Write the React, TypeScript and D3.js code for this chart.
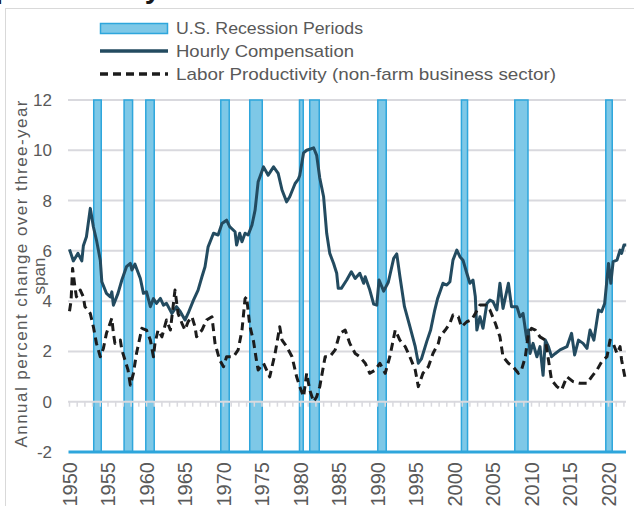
import React, { useEffect, useRef } from "react";
import * as d3 from "d3";

// values (decimal years)
const yTicks = [0, 2, 4, 6, 8, 10, 12];
const yLabels = [-2, 0, 2, 4, 6, 8, 10, 12];
const xTicks = [1950, 1955, 1960, 1965, 1970, 1975, 1980, 1985, 1990, 1995, 2000, 2005, 2010, 2015, 2020];

const recessions: [number, number][] = [
  [1953.05, 1954.22], [1956.99, 1958.29], [1959.81, 1961.1], [1969.55, 1970.84],
  [1973.31, 1975.13], [1979.77, 1980.45], [1981.1, 1982.53], [1989.94, 1991.23],
  [2000.8, 2001.79], [2007.73, 2009.64], [2019.55, 2020.58],
];

const hourlyComp: [number, number][] = [
  [1950.0, 6.06], [1950.5, 5.6], [1951.1, 5.9], [1951.6, 5.6], [1951.8, 6.2], [1952.2, 6.56],
  [1952.7, 7.69], [1953.1, 6.96], [1953.5, 6.43], [1954.0, 5.63], [1954.2, 4.77], [1954.8, 4.31],
  [1955.3, 4.17], [1955.5, 4.37], [1955.7, 3.84], [1956.3, 4.31], [1956.8, 4.84], [1957.4, 5.37],
  [1957.9, 5.5], [1958.1, 5.24], [1958.5, 5.47], [1959.2, 4.9], [1959.6, 4.31], [1960.0, 4.37],
  [1960.5, 3.78], [1960.9, 4.1], [1961.3, 3.91], [1961.8, 4.11], [1962.2, 3.84], [1962.6, 3.91],
  [1963.3, 3.51], [1963.9, 3.78], [1964.4, 3.58], [1965.0, 3.25], [1965.4, 3.51], [1966.1, 4.04],
  [1966.7, 4.44], [1967.2, 4.97], [1967.6, 5.37], [1968.0, 6.16], [1968.7, 6.7], [1969.3, 6.63],
  [1969.8, 7.09], [1970.4, 7.22], [1970.8, 6.96], [1971.5, 6.76], [1971.7, 6.23], [1972.1, 6.7],
  [1972.4, 6.36], [1972.8, 6.7], [1973.2, 6.63], [1973.7, 7.03], [1974.1, 7.62], [1974.5, 8.75],
  [1975.2, 9.34], [1975.8, 9.01], [1976.5, 9.34], [1977.1, 9.08], [1977.6, 8.42], [1978.2, 7.95],
  [1978.6, 8.15], [1979.3, 8.68], [1979.7, 8.84], [1979.9, 9.0], [1980.4, 9.9], [1980.8, 10.0],
  [1981.5, 10.07], [1981.7, 10.1], [1982.1, 9.8], [1982.5, 8.9], [1983.0, 8.15], [1983.4, 6.7],
  [1983.8, 5.9], [1984.3, 5.5], [1984.7, 5.11], [1984.9, 4.51], [1985.3, 4.51], [1986.0, 4.84],
  [1986.6, 5.17], [1987.1, 4.9], [1987.7, 5.11], [1988.2, 4.71], [1988.4, 4.97], [1989.0, 4.44],
  [1989.5, 3.88], [1989.9, 3.84], [1990.2, 4.84], [1990.8, 4.4], [1991.4, 4.75], [1992.1, 5.7],
  [1992.5, 5.88], [1992.9, 5.0], [1993.5, 3.78], [1994.2, 3.0], [1994.9, 2.19], [1995.3, 1.53],
  [1995.7, 1.7], [1996.4, 2.4], [1996.9, 2.85], [1997.4, 3.6], [1997.8, 4.1], [1998.2, 4.44],
  [1998.5, 4.71], [1999.0, 4.64], [1999.4, 4.77], [1999.8, 5.63], [2000.3, 6.03], [2000.7, 5.77],
  [2001.1, 5.63], [2001.6, 5.11], [2002.0, 4.71], [2002.4, 4.84], [2002.7, 4.18], [2002.9, 2.85],
  [2003.3, 3.38], [2003.7, 2.92], [2004.2, 3.91], [2004.6, 4.04], [2005.0, 3.98], [2005.5, 3.65],
  [2005.9, 4.71], [2006.3, 3.71], [2007.0, 4.71], [2007.4, 3.78], [2008.1, 3.78], [2008.5, 3.38],
  [2008.9, 3.51], [2009.4, 2.45], [2009.6, 2.85], [2009.8, 1.92], [2010.2, 2.32], [2010.7, 1.79],
  [2011.1, 2.19], [2011.5, 1.05], [2011.8, 2.45], [2012.2, 2.19], [2012.6, 1.79], [2013.1, 1.92],
  [2013.7, 2.06], [2014.6, 2.19], [2015.2, 2.72], [2015.6, 1.86], [2016.1, 2.45], [2016.7, 2.32],
  [2017.2, 2.12], [2017.6, 2.85], [2018.1, 2.45], [2018.7, 3.65], [2019.1, 3.58], [2019.5, 3.91],
  [2020.0, 5.5], [2020.3, 4.71], [2020.6, 5.57], [2021.1, 5.63], [2021.5, 6.03], [2021.7, 5.9],
  [2022.0, 6.23], [2022.3, 6.23],
];

const laborProd: [number, number][] = [
  [1950.0, 3.6], [1950.2, 4.0], [1950.4, 5.3], [1950.7, 4.57], [1950.9, 4.17], [1951.4, 4.44],
  [1951.8, 4.17], [1952.0, 3.78], [1952.7, 3.51], [1953.1, 2.98], [1953.5, 2.32], [1954.0, 1.79],
  [1954.4, 2.12], [1954.8, 2.72], [1955.5, 3.32], [1955.7, 2.72], [1955.9, 2.32], [1956.6, 2.45],
  [1956.8, 2.06], [1957.2, 1.66], [1957.6, 1.26], [1957.9, 0.66], [1958.3, 1.13], [1958.7, 1.92],
  [1959.4, 2.92], [1960.0, 2.85], [1960.5, 2.45], [1960.9, 1.79], [1961.1, 2.32], [1961.5, 2.85],
  [1962.0, 2.58], [1962.6, 3.25], [1963.1, 2.85], [1963.7, 4.44], [1964.1, 3.51], [1964.6, 3.12],
  [1965.0, 2.85], [1965.4, 3.18], [1965.9, 3.38], [1966.3, 2.98], [1966.5, 2.58], [1967.2, 2.85],
  [1967.8, 3.25], [1968.5, 3.38], [1968.9, 2.32], [1969.5, 1.66], [1970.0, 1.39], [1970.4, 1.79],
  [1971.3, 1.79], [1971.9, 2.06], [1972.4, 2.85], [1972.8, 4.1], [1973.0, 4.17], [1973.4, 3.05],
  [1973.9, 2.4], [1974.3, 1.6], [1974.5, 1.26], [1975.2, 1.53], [1975.6, 1.26], [1976.0, 0.99],
  [1976.7, 1.92], [1977.3, 2.98], [1977.6, 2.45], [1978.2, 2.19], [1978.9, 1.79], [1979.5, 0.99],
  [1979.9, 0.6], [1980.4, 0.2], [1980.8, 1.13], [1981.2, 0.47], [1981.7, 0.0], [1982.1, 0.2],
  [1982.5, 0.6], [1983.2, 1.79], [1983.8, 1.79], [1984.5, 2.06], [1985.1, 2.72], [1985.8, 2.85],
  [1986.4, 2.32], [1987.1, 1.92], [1987.7, 1.79], [1988.4, 1.53], [1989.0, 1.13], [1989.7, 1.26],
  [1990.3, 1.53], [1991.0, 1.13], [1991.6, 1.79], [1992.3, 2.85], [1992.9, 2.45], [1993.6, 2.19],
  [1994.2, 1.79], [1994.9, 1.26], [1995.3, 0.6], [1995.9, 1.13], [1996.6, 1.39], [1997.2, 1.92],
  [1997.9, 2.32], [1998.1, 2.58], [1998.8, 2.85], [1999.4, 3.12], [1999.8, 3.45], [2000.5, 3.38],
  [2000.9, 2.98], [2001.6, 3.18], [2002.2, 3.25], [2002.7, 3.51], [2003.3, 3.85], [2004.0, 3.85],
  [2004.6, 3.65], [2005.3, 3.12], [2005.9, 2.58], [2006.3, 1.79], [2007.0, 1.53], [2007.6, 1.39],
  [2008.3, 1.13], [2008.7, 1.26], [2009.2, 1.79], [2009.6, 2.72], [2010.0, 2.92], [2010.5, 2.85],
  [2011.1, 2.58], [2011.8, 2.45], [2012.2, 1.66], [2012.6, 0.86], [2013.3, 0.6], [2013.9, 0.47],
  [2014.6, 0.99], [2015.4, 0.8], [2016.3, 0.73], [2017.2, 0.73], [2017.8, 0.99], [2018.5, 1.26],
  [2019.1, 1.59], [2019.8, 1.79], [2020.2, 2.45], [2020.6, 2.32], [2021.1, 1.92], [2021.5, 2.19],
  [2021.7, 1.66], [2022.2, 0.86],
];

const legendItems = [
  "U.S. Recession Periods",
  "Hourly Compensation",
  "Labor Productivity (non-farm business sector)",
];

const FONT = "'Liberation Sans', Arial, sans-serif";
const GREY = "#595959";
const BAND_FILL = "#7ec8e7";
const BAND_EDGE = "#2ea6dc";
const COMP = "#234b60";
const PROD = "#1c1c1c";

export default function App() {
  const ref = useRef<SVGSVGElement>(null);

  useEffect(() => {
    const svg = d3.select(ref.current);
    svg.selectAll("*").remove();

    const x = d3.scaleLinear().domain([1950, 2022.4]).range([69.5, 627]);
    const y = d3.scaleLinear().domain([-2, 12]).range([452, 100]);

    // title runs off the top of the picture, only descenders show
    svg.append("text").attr("x", -5).attr("y", -2).attr("font-size", 29).attr("font-weight", "bold")
      .attr("font-family", FONT).attr("fill", "#1a1a1a").text("productivity");
    svg.append("rect").attr("x", 5.5).attr("y", 8.5).attr("width", 700).attr("height", 600)
      .attr("fill", "none").attr("stroke", "#d9d9d9").attr("stroke-width", 1);

    // gridlines
    svg.append("g").selectAll("line").data(yTicks.filter(d => d > 0)).join("line")
      .attr("x1", 68).attr("x2", 626).attr("y1", d => y(d)).attr("y2", d => y(d))
      .attr("stroke", "#d9d9de").attr("stroke-width", 2);

    // recession bands
    svg.append("g").selectAll("rect").data(recessions).join("rect")
      .attr("x", d => x(d[0]) + 0.75).attr("width", d => x(d[1]) - x(d[0]) - 1.5)
      .attr("y", y(12)).attr("height", y(-2) - y(12))
      .attr("fill", BAND_FILL).attr("stroke", BAND_EDGE).attr("stroke-width", 1.5);

    // zero axis with yearly ticks
    svg.append("line").attr("x1", 68).attr("x2", 626).attr("y1", y(0)).attr("y2", y(0))
      .attr("stroke", "#d9d9de").attr("stroke-width", 2);
    svg.append("g").selectAll("line").data(d3.range(1950, 2023)).join("line")
      .attr("x1", d => x(d)).attr("x2", d => x(d)).attr("y1", y(0)).attr("y2", y(0) + 5)
      .attr("stroke", "#d9d9de").attr("stroke-width", 1.5);

    // -2 baseline
    svg.append("line").attr("x1", x(1950) - 1).attr("x2", 626).attr("y1", y(-2)).attr("y2", y(-2))
      .attr("stroke", BAND_EDGE).attr("stroke-width", 3);

    const line = d3.line<[number, number]>().x(d => x(d[0])).y(d => y(d[1]));

    svg.append("path").datum(hourlyComp).attr("d", line).attr("fill", "none")
      .attr("stroke", COMP).attr("stroke-width", 3).attr("stroke-linejoin", "round");
    svg.append("path").datum(laborProd).attr("d", line).attr("fill", "none")
      .attr("stroke", PROD).attr("stroke-width", 3).attr("stroke-dasharray", "8,5")
      .attr("stroke-linejoin", "round");

    // y labels
    svg.append("g").selectAll("text").data(yLabels).join("text")
      .attr("x", 52).attr("y", d => y(d)).attr("dy", "0.35em").attr("text-anchor", "end")
      .attr("font-size", 17).attr("font-family", FONT).attr("fill", GREY).text(d => d);

    // x labels
    svg.append("g").selectAll("text").data(xTicks).join("text")
      .attr("transform", d => `translate(${x(d) + 7},462) rotate(-90)`)
      .attr("text-anchor", "end").attr("font-size", 20).attr("font-family", FONT)
      .attr("fill", GREY).text(d => d);

    // y title (two lines)
    svg.append("text").attr("transform", "translate(27,274) rotate(-90)")
      .attr("text-anchor", "middle").attr("font-size", 17).attr("font-family", FONT)
      .attr("fill", GREY).attr("textLength", 347).attr("lengthAdjust", "spacing")
      .text("Annual percent change over three-year");
    svg.append("text").attr("transform", "translate(45,276) rotate(-90)")
      .attr("text-anchor", "middle").attr("font-size", 17).attr("font-family", FONT)
      .attr("fill", GREY).text("span");

    // legend
    const lg = svg.append("g");
    lg.append("rect").attr("x", 100.5).attr("y", 23.5).attr("width", 67).attr("height", 10)
      .attr("fill", BAND_FILL).attr("stroke", BAND_EDGE).attr("stroke-width", 1.5);
    lg.append("line").attr("x1", 100).attr("x2", 168).attr("y1", 51).attr("y2", 51)
      .attr("stroke", COMP).attr("stroke-width", 3.5);
    lg.append("line").attr("x1", 100).attr("x2", 168).attr("y1", 74).attr("y2", 74)
      .attr("stroke", PROD).attr("stroke-width", 3.5).attr("stroke-dasharray", "8,5");
    const lens = [187, 178, 380];
    lg.selectAll("text").data(legendItems).join("text")
      .attr("x", 176).attr("y", (_, i) => 34 + i * 23)
      .attr("font-size", 17).attr("font-family", FONT).attr("fill", GREY)
      .attr("textLength", (_, i) => lens[i]).attr("lengthAdjust", "spacingAndGlyphs")
      .text(d => d);
  }, []);

  return (
    <svg ref={ref} width={634} height={506}
      style={{ position: "absolute", left: 0, top: 0, background: "#fff" }} />
  );
}
